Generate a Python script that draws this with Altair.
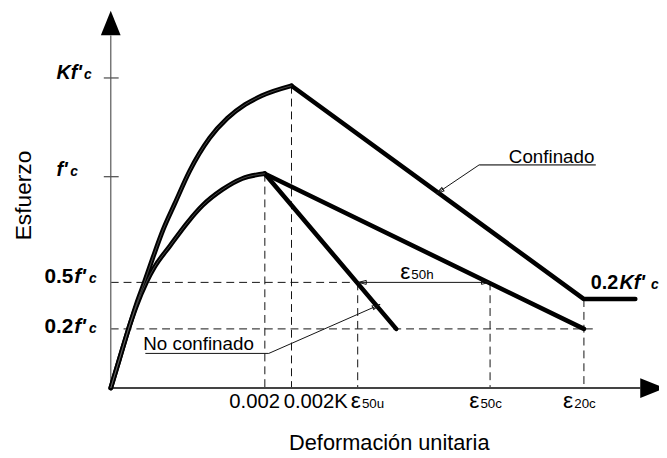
import altair as alt
import pandas as pd

# Units: strain in per mille (x1e-3), stress as a fraction of f'c (schematic)
# Confined curve (Kent-Park modified): rising branch
conf_rise_x = [0.0, 0.115, 0.231, 0.333, 0.436, 0.551, 0.679, 0.833, 1.026, 1.282, 1.513, 1.744, 1.962, 2.346]
conf_rise_y = [0.0, 0.140, 0.280, 0.397, 0.500, 0.621, 0.748, 0.874, 1.028, 1.182, 1.276, 1.341, 1.383, 1.430]
# Confined falling branch + residual plateau 0.2Kf'c
conf_fall_x = [2.346, 6.141, 6.808]
conf_fall_y = [1.430, 0.421, 0.421]
# Unconfined rising branch
unc_rise_x = [0.0, 0.115, 0.231, 0.333, 0.462, 0.564, 0.769, 1.0, 1.192, 1.449, 1.705, 2.0]
unc_rise_y = [0.0, 0.140, 0.280, 0.388, 0.500, 0.570, 0.673, 0.785, 0.864, 0.939, 0.991, 1.014]
# Falling branches from f'c
kp_fall_x = [2.0, 6.141]
kp_fall_y = [1.014, 0.280]
unc_fall_x = [2.0, 3.705]
unc_fall_y = [1.014, 0.280]

# Characteristic strains and stresses
eps_002, eps_002K, eps_50u, eps_50c, eps_20c = 2.0, 2.346, 3.205, 4.923, 6.141
s_Kfc, s_fc, s_05, s_02, s_02K = 1.467, 1.0, 0.5, 0.280, 0.421

xtick_labels = ["0.002", "0.002K"]
eps_subs = ["50u", "50c", "20c"]

XMIN, XMAX = -1.3333, 7.1154
YMIN, YMAX = -0.3178, 1.7850
sx = alt.Scale(domain=[XMIN, XMAX], nice=False, zero=False)
sy = alt.Scale(domain=[YMIN, YMAX], nice=False, zero=False)
FONT = "Liberation Sans"


def X():
    return alt.X("x:Q", scale=sx, axis=None)


def Y():
    return alt.Y("y:Q", scale=sy, axis=None)


def segs(d):
    rows = []
    for k, (xs, ys) in d.items():
        for i, (a, b) in enumerate(zip(xs, ys)):
            rows.append(dict(seg=k, i=i, x=a, y=b))
    return pd.DataFrame(rows)


def lines(df, **kw):
    return alt.Chart(df).mark_line(**kw).encode(x=X(), y=Y(), detail="seg:N", order="i:Q")


def txt(rows, size, weight="normal", style="normal", align="left", angle=0):
    df = pd.DataFrame(rows, columns=["x", "y", "t"])
    return alt.Chart(df).mark_text(font=FONT, fontSize=size, fontWeight=weight, fontStyle=style,
                                   align=align, baseline="alphabetic", angle=angle,
                                   color="black").encode(x=X(), y=Y(), text="t:N")


# dashed reference lines
dashed = segs({
    "v1": ([eps_002, eps_002], [unc_rise_y[-1], 0]),
    "v2": ([eps_002K, eps_002K], [conf_rise_y[-1], 0]),
    "v3": ([eps_50u, eps_50u], [s_05, 0]),
    "v4": ([eps_50c, eps_50c], [s_05, 0]),
    "v5": ([eps_20c, eps_20c], [s_02K, 0]),
    "h1": ([0, eps_50u], [s_05, s_05]),
    "h2": ([0, 6.256], [s_02, s_02]),
})
rising = segs({
    "cr": (conf_rise_x, conf_rise_y),
    "ur": (unc_rise_x, unc_rise_y),
})
falling = segs({
    "cf": (conf_fall_x, conf_fall_y),
    "kf": (kp_fall_x, kp_fall_y),
    "uf": (unc_fall_x, unc_fall_y),
})
yaxis = segs({"ya": ([0, 0], [0, 1.668])})
xaxis = segs({"xa": ([0, 6.872], [0, 0])})
yticks = segs({"t1": ([-0.09, 0.103], [s_Kfc, s_Kfc]), "t2": ([-0.09, 0.103], [s_fc, s_fc])})
gray_thin = segs({"cu": ([4.782, 6.295], [1.056, 1.056])})
thin = segs({
    "cl": ([4.782, 4.269], [1.056, 0.930]),
    "nu": ([0.449, 2.051], [0.164, 0.164]),
    "nl": ([2.051, 3.449], [0.164, 0.388]),
    "dim": ([eps_50u, eps_50c], [s_05, s_05]),
})

big_up = pd.DataFrame({"x": [0.0], "y": [1.727]})
big_right = pd.DataFrame({"x": [7.032], "y": [0.0]})
small_arr = pd.DataFrame({"x": [eps_50u + 0.06, eps_50c - 0.06, 4.269, 3.449],
                          "y": [s_05, s_05, 0.930, 0.388],
                          "ang": [180, 0, 146, 336]})

layers = [
    lines(dashed, color="#111", strokeWidth=1, strokeDash=[8, 5]),
    lines(yaxis, color="#777", strokeWidth=1.5),
    lines(xaxis, color="#444", strokeWidth=2),
    lines(yticks, color="#555", strokeWidth=1.3),
    lines(gray_thin, color="#666", strokeWidth=1.6),
    lines(thin, color="#111", strokeWidth=1),
    lines(rising, color="black", strokeWidth=4.8, strokeCap="round", strokeJoin="round",
          interpolate="monotone"),
    lines(falling, color="black", strokeWidth=4.6, strokeCap="round", strokeJoin="round"),
    lines(rising, color="#777", strokeWidth=0.6, interpolate="monotone"),
    alt.Chart(big_up).mark_point(shape="M-0.8,1L0,-1L0.8,1Z", filled=True, size=625,
                                 color="black", opacity=1).encode(x=X(), y=Y()),
    alt.Chart(big_right).mark_point(shape="M-1,-0.8L1,0L-1,0.8Z", filled=True, size=625,
                                    color="black", opacity=1).encode(x=X(), y=Y()),
    alt.Chart(small_arr).mark_point(shape="M-1,-0.5L1,0L-1,0.5Z", filled=False, size=64,
                                    color="#111", strokeWidth=1, opacity=1).encode(
        x=X(), y=Y(), angle=alt.Angle("ang:Q", scale=None)),
    # axis titles
    txt([(-1.038, 0.911, "Esfuerzo")], 23, align="center", angle=270),
    txt([(3.615, -0.294, "Deformación unitaria")], 22, align="center"),
    # curve labels
    txt([(5.167, 1.065, "Confinado"), (0.423, 0.178, "No confinado")], 19),
    # x tick labels
    txt([(1.538, -0.093, xtick_labels[0]), (2.244, -0.093, xtick_labels[1])], 20.5),
    txt([(3.115, -0.093, "ε"), (4.653, -0.093, "ε"), (5.871, -0.093, "ε"), (3.756, 0.514, "ε")], 23),
    txt([(3.260, -0.093, eps_subs[0]), (4.798, -0.093, eps_subs[1]), (6.016, -0.093, eps_subs[2]),
         (3.901, 0.514, "50h")], 13.5),
    # y tick labels
    txt([(-0.705, 1.463, "Kf'"), (-0.705, 1.005, "f'")], 20, weight="bold", style="italic"),
    txt([(-0.346, 1.463, "c"), (-0.526, 1.005, "c")], 14, weight="bold", style="italic"),
    txt([(-0.859, 0.495, "0.5"), (-0.859, 0.262, "0.2")], 21, weight="bold"),
    txt([(-0.474, 0.495, "f'"), (-0.474, 0.262, "f'")], 21, weight="bold", style="italic"),
    txt([(-0.282, 0.495, "c"), (-0.282, 0.262, "c")], 14, weight="bold", style="italic"),
    txt([(6.231, 0.467, "0.2")], 20, weight="bold"),
    txt([(6.603, 0.467, "Kf'")], 20, weight="bold", style="italic"),
    txt([(7.013, 0.467, "c")], 14, weight="bold", style="italic"),
]

chart = alt.layer(*layers).properties(
    width=659, height=450,
    autosize=alt.AutoSizeParams(type="none"),
    padding=0,
).configure_view(stroke=None)

chart.save("out.html", embed_options={"renderer": "svg", "actions": False})
